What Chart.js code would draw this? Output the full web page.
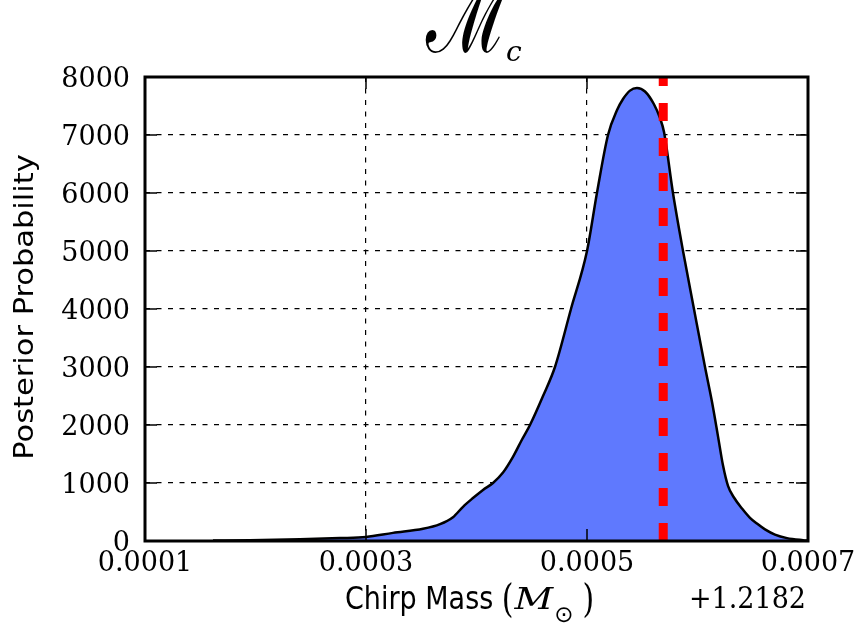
<!DOCTYPE html>
<html>
<head>
<meta charset="utf-8">
<script src="https://cdn.jsdelivr.net/npm/chart.js@4.4.1/dist/chart.umd.min.js"></script>
<style>
  html, body { margin: 0; padding: 0; background: #fff; }
  #wrap { width: 857px; height: 624px; }
</style>
</head>
<body>
<div id="wrap"><canvas id="mcChart" width="857" height="624"></canvas></div>
<script>
// chirp mass offset from 1.2182 (solar masses)
var massOffset = [0.0001615, 0.0001950, 0.0002403, 0.0002765, 0.0003000, 0.0003244, 0.0003516, 0.0003670,
    0.0003787, 0.0003878, 0.0003968, 0.0004059, 0.0004149, 0.0004240, 0.0004330, 0.0004412, 0.0004484,
    0.0004602, 0.0004710, 0.0004855, 0.0005000, 0.0005090, 0.0005190, 0.0005272, 0.0005326, 0.0005389,
    0.0005452, 0.0005525, 0.0005606, 0.0005661, 0.0005697, 0.0005778, 0.0005869, 0.0005968, 0.0006068,
    0.0006131, 0.0006186, 0.0006231, 0.0006276, 0.0006330, 0.0006403, 0.0006475, 0.0006538, 0.0006611,
    0.0006701, 0.0006810, 0.0006955, 0.0007000];
// posterior probability density
var density = [8, 15, 30, 50, 70, 140, 210, 290, 410, 590, 740, 880, 1000, 1180, 1450, 1750, 2000,
    2500, 3000, 4000, 5000, 6000, 7000, 7430, 7620, 7765, 7810, 7750, 7530, 7290, 7050, 6000, 5000,
    4000, 3000, 2400, 1800, 1300, 950, 750, 560, 400, 300, 200, 110, 50, 15, 8];
var injectedValue = 0.000569;
var xTickValues = [0.0001, 0.0003, 0.0005, 0.0007];
var yTickValues = [0, 1000, 2000, 3000, 4000, 5000, 6000, 7000, 8000];
var offsetText = '+1.2182';

var curvePoints = massOffset.map(function (x, i) { return { x: x, y: density[i] }; });
var injPoints = [{ x: injectedValue, y: yTickValues[0] }, { x: injectedValue, y: yTickValues[yTickValues.length - 1] }];

function stretchText(ctx, txt, x, y, font, sy, align, sx) {
    sx = sx || 1;
    ctx.save();
    ctx.translate(x, y);
    ctx.scale(sx, sy);
    ctx.font = font;
    ctx.textAlign = align || 'left';
    ctx.textBaseline = 'alphabetic';
    ctx.fillText(txt, 0, 0);
    var w = ctx.measureText(txt).width * sx;
    ctx.restore();
    return w;
}

var framePlugin = {
    id: 'frame',
    afterDraw: function (chart) {
        var ctx = chart.ctx, a = chart.chartArea;
        var xs = chart.scales.x, ys = chart.scales.y;
        ctx.save();
        ctx.fillStyle = '#000';
        ctx.strokeStyle = '#000';

        // inward tick marks on all four sides
        ctx.lineWidth = 1.5;
        ctx.beginPath();
        xTickValues.forEach(function (v) {
            var px = xs.getPixelForValue(v);
            ctx.moveTo(px, a.bottom); ctx.lineTo(px, a.bottom - 12);
            ctx.moveTo(px, a.top); ctx.lineTo(px, a.top + 12);
        });
        yTickValues.forEach(function (v) {
            var py = ys.getPixelForValue(v);
            ctx.moveTo(a.left, py); ctx.lineTo(a.left + 12, py);
            ctx.moveTo(a.right, py); ctx.lineTo(a.right - 12, py);
        });
        ctx.stroke();

        // axes box
        ctx.lineWidth = 3;
        ctx.strokeRect(a.left, a.top, a.right - a.left, a.bottom - a.top);

        // offset text
        stretchText(ctx, offsetText, a.right - 2, 608, '27px "DejaVu Serif"', 1.1, 'right');

        // x label: Chirp Mass (M_sun)
        var x0 = 345, base = 609;
        x0 += stretchText(ctx, 'Chirp Mass ', x0, base, '27px "DejaVu Sans"', 1.17);
        x0 += stretchText(ctx, '(', x0, base + 3, '30px "DejaVu Serif"', 1.3);
        x0 += stretchText(ctx, 'M', x0 + 1, base, 'italic 28px "DejaVu Serif"', 1.08, 'left', 1.35) + 1;
        x0 += stretchText(ctx, '\u2299', x0 + 1, base + 13, '23px "DejaVu Sans"', 1.0) + 10;
        stretchText(ctx, ')', x0, base + 3, '30px "DejaVu Serif"', 1.3);

        // y label
        ctx.save();
        ctx.translate(33, (a.top + a.bottom) / 2 - 2);
        ctx.rotate(-Math.PI / 2);
        ctx.scale(1.15, 1);
        ctx.font = '26.5px "DejaVu Sans"';
        ctx.textAlign = 'center';
        ctx.textBaseline = 'alphabetic';
        ctx.fillText('Posterior Probability', 0, 0);
        ctx.restore();

        // title M_c
        stretchText(ctx, '\u2133', 426, 52, '66px "DejaVu Serif"', 1.5, 'left', 1.1);
        stretchText(ctx, 'c', 506, 61, 'italic 28px "DejaVu Serif"', 1.0);
        ctx.restore();
    }
};

var ctx = document.getElementById('mcChart').getContext('2d');
new Chart(ctx, {
    type: 'line',
    data: {
        datasets: [
            {
                data: curvePoints,
                fill: 'origin',
                backgroundColor: '#5f79fe',
                borderColor: '#000',
                borderWidth: 2.5,
                pointRadius: 0,
                cubicInterpolationMode: 'monotone',
                order: 2
            },
            {
                data: injPoints,
                fill: false,
                borderColor: '#ff0000',
                borderWidth: 9,
                borderDash: [18, 17],
                borderCapStyle: 'butt',
                pointRadius: 0,
                tension: 0,
                order: 1
            }
        ]
    },
    options: {
        responsive: false,
        animation: false,
        layout: { padding: { top: 77, right: 49, left: 0, bottom: 0 } },
        plugins: { legend: { display: false }, tooltip: { enabled: false } },
        scales: {
            x: {
                type: 'linear',
                min: xTickValues[0],
                max: xTickValues[xTickValues.length - 1],
                z: 1,
                afterBuildTicks: function (scale) {
                    scale.ticks = xTickValues.map(function (v) { return { value: v }; });
                },
                afterFit: function (scale) {
                    scale.height = 83;
                    scale.paddingLeft = 0;
                    scale.paddingRight = 0;
                },
                grid: { color: '#000', lineWidth: 1.2, drawTicks: false },
                border: { display: false, dash: [5, 6.5] },
                ticks: {
                    color: '#000',
                    padding: 7,
                    maxRotation: 0,
                    autoSkip: false,
                    font: { family: 'DejaVu Serif', size: 27 },
                    callback: function (v) { return Number(v).toFixed(4); }
                }
            },
            y: {
                min: yTickValues[0],
                max: yTickValues[yTickValues.length - 1],
                z: 1,
                afterBuildTicks: function (scale) {
                    scale.ticks = yTickValues.map(function (v) { return { value: v }; });
                },
                afterFit: function (scale) {
                    scale.width = 145;
                    scale.paddingTop = 0;
                    scale.paddingBottom = 0;
                },
                grid: { color: '#000', lineWidth: 1.2, drawTicks: false },
                border: { display: false, dash: [5, 6.5] },
                ticks: {
                    color: '#000',
                    padding: 15,
                    labelOffset: 3,
                    font: { family: 'DejaVu Serif', size: 27 },
                    callback: function (v) { return String(v); }
                }
            }
        }
    },
    plugins: [framePlugin]
});
</script>
</body>
</html>
